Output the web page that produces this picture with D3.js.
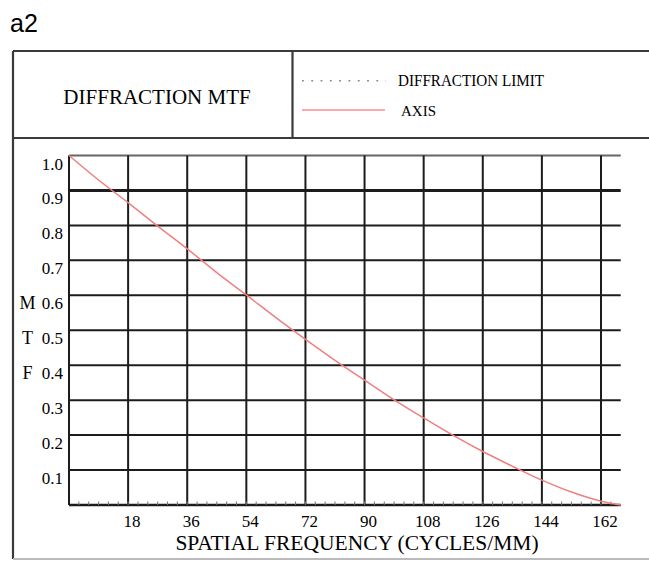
<!DOCTYPE html>
<html>
<head>
<meta charset="utf-8">
<script src="https://cdn.jsdelivr.net/npm/d3@7"></script>
<style>
    html, body { margin: 0; padding: 0; background: #fff; }
    svg { display: block; }
    text { font-family: "Liberation Serif", "DejaVu Serif", serif; fill: #000; }
</style>
</head>
<body>
<div id="chart"></div>
<script>
// data
const frequency = [0, 9, 18, 27, 36, 45, 54, 63, 72, 81, 90, 99, 108, 117, 126, 135, 144, 153, 162, 168];
const axisMtf = [1.0, 0.93, 0.865, 0.798, 0.733, 0.665, 0.601, 0.536, 0.474, 0.414, 0.357, 0.301, 0.249, 0.199, 0.153, 0.111, 0.071, 0.037, 0.011, 0.0];
const xTicks = [18, 36, 54, 72, 90, 108, 126, 144, 162];
const yTicks = [0.1, 0.2, 0.3, 0.4, 0.5, 0.6, 0.7, 0.8, 0.9, 1.0];
const minorTicks = d3.range(3, 168, 3);
const yLetters = [{ ch: "M", v: 0.6 }, { ch: "T", v: 0.5 }, { ch: "F", v: 0.4 }];

const width = 649, height = 562;
const svg = d3.select("#chart").append("svg").attr("width", width).attr("height", height);

const x = d3.scaleLinear().domain([0, 168]).range([69, 620.7]);
const y = d3.scaleLinear().domain([0, 1]).range([505, 155.5]);

// panel label
svg.append("text")
    .attr("x", 10).attr("y", 32)
    .style("font-family", "'Liberation Sans', Arial, sans-serif")
    .style("font-size", "25px")
    .text("a2");

// outer frame + header
const frame = svg.append("g").attr("stroke", "#3a3a3a").attr("stroke-width", 2.2).attr("fill", "none");
frame.append("line").attr("x1", 13).attr("x2", 660).attr("y1", 51).attr("y2", 51);
frame.append("line").attr("x1", 13).attr("x2", 13).attr("y1", 51).attr("y2", 559);
frame.append("line").attr("x1", 13).attr("x2", 660).attr("y1", 559).attr("y2", 559).attr("stroke", "#bbb");
frame.append("line").attr("x1", 13).attr("x2", 660).attr("y1", 138).attr("y2", 138);
frame.append("line").attr("x1", 292.5).attr("x2", 292.5).attr("y1", 51).attr("y2", 138);

svg.append("text")
    .attr("x", 157).attr("y", 104)
    .attr("text-anchor", "middle")
    .style("font-size", "21px")
    .text("DIFFRACTION MTF");

// legend
svg.append("line")
    .attr("x1", 302).attr("x2", 386).attr("y1", 80.7).attr("y2", 80.7)
    .attr("stroke", "#888").attr("stroke-width", 1.5)
    .attr("stroke-dasharray", "1.8 7.5");
svg.append("text")
    .attr("x", 398).attr("y", 85.7)
    .attr("textLength", 146).attr("lengthAdjust", "spacingAndGlyphs")
    .style("font-size", "17.5px")
    .text("DIFFRACTION LIMIT");
svg.append("line")
    .attr("x1", 302).attr("x2", 385).attr("y1", 110).attr("y2", 110)
    .attr("stroke", "#ff8c8c").attr("stroke-width", 1.6);
svg.append("text")
    .attr("x", 401).attr("y", 115.7)
    .style("font-size", "15px")
    .text("AXIS");

// grid
const grid = svg.append("g").attr("stroke", "#1c1c1c").attr("stroke-width", 2);
grid.selectAll(".hgrid")
    .data(yTicks)
    .enter()
    .append("line")
    .attr("x1", x(0)).attr("x2", x(168))
    .attr("y1", (d) => y(d)).attr("y2", (d) => y(d))
    .attr("stroke", (d) => (d === 1.0 ? "#666" : "#1c1c1c"))
    .attr("stroke-width", (d) => (d === 0.9 ? 3 : 2));
grid.selectAll(".vgrid")
    .data(xTicks)
    .enter()
    .append("line")
    .attr("x1", (d) => x(d)).attr("x2", (d) => x(d))
    .attr("y1", y(0)).attr("y2", y(1));
grid.append("line").attr("x1", x(0)).attr("x2", x(0)).attr("y1", y(0)).attr("y2", y(1));
grid.append("line").attr("x1", x(0)).attr("x2", x(168)).attr("y1", y(0)).attr("y2", y(0)).attr("stroke-width", 2.4);

// minor ticks on the frequency axis
svg.append("g").selectAll("line")
    .data(minorTicks)
    .enter()
    .append("line")
    .attr("x1", (d) => x(d)).attr("x2", (d) => x(d))
    .attr("y1", y(0)).attr("y2", y(0) - 3.5)
    .attr("stroke", "#777").attr("stroke-width", 1);

// tick labels
svg.append("g").selectAll("text")
    .data(yTicks)
    .enter()
    .append("text")
    .attr("x", 63)
    .attr("y", (d) => y(d) + 14)
    .attr("text-anchor", "end")
    .style("font-size", "17px")
    .text(d3.format(".1f"));

svg.append("g").selectAll("text")
    .data(yLetters)
    .enter()
    .append("text")
    .attr("x", 27.5)
    .attr("y", (d) => y(d.v) + 14)
    .attr("text-anchor", "middle")
    .style("font-size", "18px")
    .text((d) => d.ch);

svg.append("g").selectAll("text")
    .data(xTicks)
    .enter()
    .append("text")
    .attr("x", (d) => x(d) + 4)
    .attr("y", 527)
    .attr("text-anchor", "middle")
    .style("font-size", "17px")
    .text((d) => d);

svg.append("text")
    .attr("x", 357).attr("y", 550)
    .attr("text-anchor", "middle")
    .style("font-size", "21.5px")
    .text("SPATIAL FREQUENCY (CYCLES/MM)");

// MTF curve
const line = d3.line()
    .x((d, i) => x(frequency[i]))
    .y((d) => y(d))
    .curve(d3.curveMonotoneX);

svg.append("path")
    .datum(axisMtf)
    .attr("d", line)
    .attr("fill", "none")
    .attr("stroke", "#f07f7f")
    .attr("stroke-width", 1.5);
</script>
</body>
</html>
